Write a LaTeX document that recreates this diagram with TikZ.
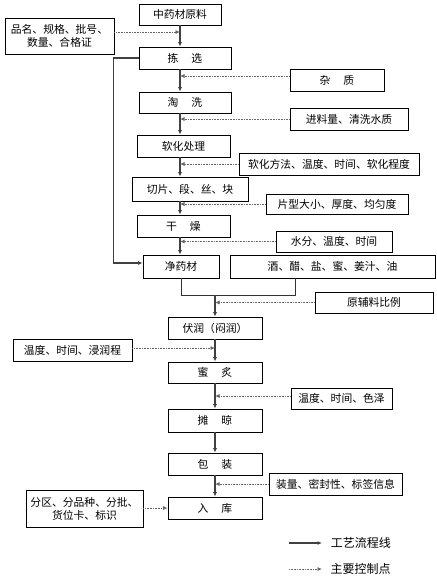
\documentclass[tikz,border=0pt]{standalone}
\usepackage{fontspec}
\setmainfont{Noto Sans CJK SC}
\usepackage{tikz}
\usetikzlibrary{arrows.meta}
\newcommand{\gap}{\hspace{1.2em}}

\tikzset{
  box/.style={draw, line width=0.8pt, inner sep=0pt, align=center,
    font=\fontsize{10.8}{13}\selectfont},
  flow/.style={line width=1.1pt, draw=black!75,
    -{Latex[length=4.5pt,width=4pt]}},
  ctrl/.style={line width=0.8pt, draw=black!60, dash pattern=on 0.8pt off 0.8pt,
    -{Latex[length=4.5pt,width=4pt]}},
  plain/.style={line width=1pt, draw=black!80}
}

\begin{document}
\begin{tikzpicture}[x=1pt,y=-1pt]
  \useasboundingbox (0,0) rectangle (437,582);
  \coordinate (sa) at (180,0);
  \coordinate (sb) at (215,0);

  % process steps
  \node[box, minimum width=82, minimum height=21] (yl) at (180,14.5) {中药材原料};
  \node[box, minimum width=92, minimum height=22] (jx) at (185,58) {拣\gap 选};
  \node[box, minimum width=92, minimum height=21] (tx) at (185,102.5) {淘\gap 洗};
  \node[box, minimum width=93, minimum height=22] (rh) at (183.5,146) {软化处理};
  \node[box, minimum width=116, minimum height=24] (qp) at (190,189) {切片、段、丝、块};
  \node[box, minimum width=93, minimum height=22] (gz) at (183.5,226) {干\gap 燥};
  \node[box, minimum width=76, minimum height=23] (jyc) at (181,266.5) {净药材};
  \node[box, minimum width=205, minimum height=23] (jc) at (332.5,266.5) {酒、醋、盐、蜜、姜汁、油};
  \node[box, minimum width=94, minimum height=22] (fr) at (215,328) {伏润（闷润）};
  \node[box, minimum width=94, minimum height=21] (mz) at (215,372.5) {蜜\gap 炙};
  \node[box, minimum width=94, minimum height=23] (tl) at (215,420.5) {摊\gap 晾};
  \node[box, minimum width=94, minimum height=22] (bz) at (215,464) {包\gap 装};
  \node[box, minimum width=94, minimum height=22] (rk) at (215,508) {入\gap 库};

  % control points
  \node[box, minimum width=109, minimum height=36] (pm) at (59.5,36) {品名、规格、批号、\\数量、合格证};
  \node[box, minimum width=94, minimum height=22] (zz) at (337,80) {杂\gap 质};
  \node[box, minimum width=118, minimum height=22] (jl) at (349,119) {进料量、清洗水质};
  \node[box, minimum width=180, minimum height=22] (rf) at (329,164) {软化方法、温度、时间、软化程度};
  \node[box, minimum width=142, minimum height=20] (px) at (337,204) {片型大小、厚度、均匀度};
  \node[box, minimum width=116, minimum height=21] (sf) at (334,241.5) {水分、温度、时间};
  \node[box, minimum width=118, minimum height=21] (yf) at (374,302.5) {原辅料比例};
  \node[box, minimum width=119, minimum height=22] (wd1) at (72.5,350) {温度、时间、浸润程};
  \node[box, minimum width=101, minimum height=21] (wd2) at (341.5,398.5) {温度、时间、色泽};
  \node[box, minimum width=133, minimum height=22] (zl) at (335.5,484) {装量、密封性、标签信息};
  \node[box, minimum width=117, minimum height=37] (fq) at (84.5,508.5) {分区、分品种、分批、\\货位卡、标识};

  % main flow
  \draw[flow] (yl.south -| sa) -- (jx.north -| sa);
  \draw[flow] (jx.south -| sa) -- (tx.north -| sa);
  \draw[flow] (tx.south -| sa) -- (rh.north -| sa);
  \draw[flow] (rh.south -| sa) -- (qp.north -| sa);
  \draw[flow] (qp.south -| sa) -- (gz.north -| sa);
  \draw[flow] (gz.south -| sa) -- (jyc.north -| sa);
  \draw[flow] (jx.west) -- ++(-25,0) |- ([yshift=3.5]jyc.west);

  \coordinate (ma) at (181,295);
  \coordinate (mb) at (295,295);
  \draw[plain] (jyc.south) -- (ma) -- (mb) -- (mb |- jc.south);
  \draw[flow] (ma -| sb) -- (fr.north);
  \draw[flow] (fr) -- (mz);
  \draw[flow] (mz) -- (tl);
  \draw[flow] (tl) -- (bz);
  \draw[flow] (bz) -- (rk);

  % control arrows
  \draw[ctrl] ([yshift=4]pm.east) -- ([yshift=4]pm.east -| sa);
  \draw[ctrl] ([yshift=4]zz.west) -- ([yshift=4]zz.west -| sa);
  \draw[ctrl] (jl.west) -- (jl.west -| sa);
  \draw[ctrl] (rf.west) -- (rf.west -| sa);
  \draw[ctrl] (px.west) -- (px.west -| sa);
  \draw[ctrl] (sf.west) -- (sf.west -| sa);
  \draw[ctrl] (yf.west) -- (yf.west -| sb);
  \draw[ctrl] ([yshift=2]wd1.east) -- ([yshift=2]wd1.east -| sb);
  \draw[ctrl] ([yshift=2.5]wd2.west) -- ([yshift=2.5]wd2.west -| sb);
  \draw[ctrl] (zl.west) -- (zl.west -| sb);
  \draw[ctrl] (fq.east |- rk.west) -- (rk.west);

  % legend
  \coordinate (la) at (289,543);
  \coordinate (lb) at (289,569);
  \draw[flow] (la) -- ++(33,0) node[right=5pt, font=\fontsize{12}{14}\selectfont, text=black] (lt1) {工艺流程线};
  \draw[ctrl] (lb) -- ++(33,0) node[right=5pt, font=\fontsize{12}{14}\selectfont, text=black] (lt2) {主要控制点};
\end{tikzpicture}
\end{document}
